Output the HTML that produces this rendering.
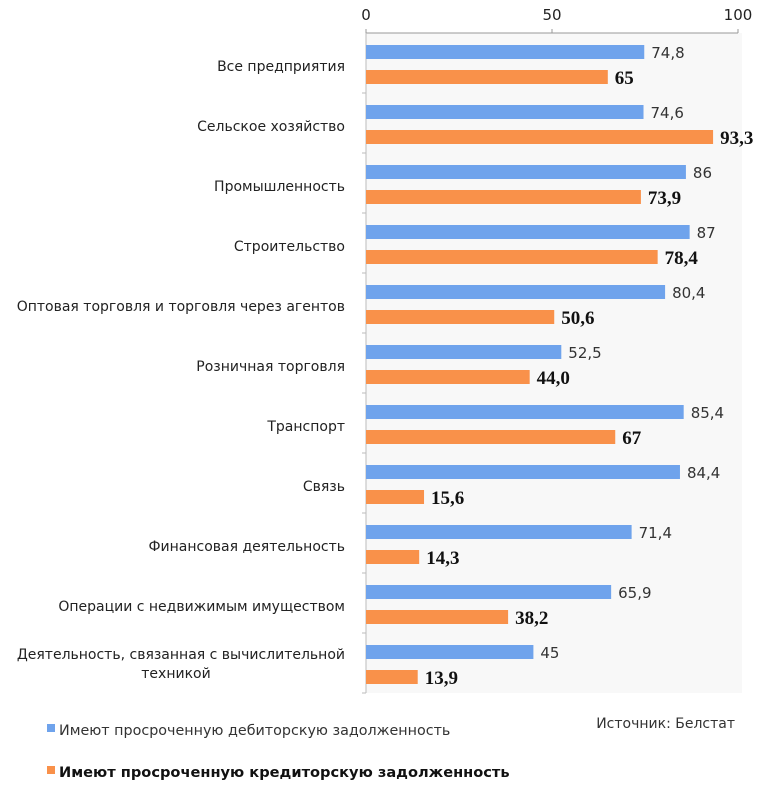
<!DOCTYPE html>
<html><head><meta charset="utf-8"><style>
body{margin:0;background:#fff;width:771px;height:783px;overflow:hidden;font-family:"DejaVu Sans","Liberation Sans",sans-serif}
svg text{font-family:"DejaVu Sans","Liberation Sans",sans-serif}
</style></head><body>
<svg id="c" width="771" height="783"></svg>
<script>
const categories=["Все предприятия","Сельское хозяйство","Промышленность","Строительство","Оптовая торговля и торговля через агентов","Розничная торговля","Транспорт","Связь","Финансовая деятельность","Операции с недвижимым имуществом","Деятельность, связанная с вычислительной|техникой"];
const debit=[74.8,74.6,86,87,80.4,52.5,85.4,84.4,71.4,65.9,45];
const debitLabels=["74,8","74,6","86","87","80,4","52,5","85,4","84,4","71,4","65,9","45"];
const credit=[65,93.3,73.9,78.4,50.6,44.0,67,15.6,14.3,38.2,13.9];
const creditLabels=["65","93,3","73,9","78,4","50,6","44,0","67","15,6","14,3","38,2","13,9"];
const ticks=[0,50,100];
const NS="http://www.w3.org/2000/svg",svg=document.getElementById('c');
const x0=366,x1=738,plotTop=33,band=60;
const xs=v=>x0+(x1-x0)*v/100;
function el(t,a,p){const e=document.createElementNS(NS,t);for(const k in a)e.setAttribute(k,a[k]);(p||svg).appendChild(e);return e;}
const bg=el('rect',{x:x0,y:plotTop,width:376,height:band*categories.length,fill:'#f8f8f8'});


el('line',{x1:x0,y1:plotTop,x2:x1,y2:plotTop,stroke:'#999'});
el('line',{x1:x0,y1:plotTop,x2:x0,y2:plotTop+band*categories.length,stroke:'#bbb'});
ticks.forEach(t=>{
 el('line',{x1:xs(t),y1:plotTop-4,x2:xs(t),y2:plotTop,stroke:'#999'});
 const tx=el('text',{x:xs(t),y:20,'text-anchor':'middle','font-size':15,fill:'#222'});tx.textContent=t;
 
 
});
categories.forEach((c,i)=>{
 const b=plotTop+i*band;
 el('line',{x1:x0-4,y1:b+band,x2:x0,y2:b+band,stroke:'#bbb'});
 const r1=el('rect',{x:x0,y:b+12,width:xs(debit[i])-x0,height:14,fill:'#6fa3ec'});
 
 
 const t1=el('text',{x:xs(debit[i])+7,y:b+25,'font-size':15,fill:'#333'});t1.textContent=debitLabels[i];
 
 
 const r2=el('rect',{x:x0,y:b+37,width:xs(credit[i])-x0,height:14,fill:'#f9914a'});
 
 
 const t2=el('text',{x:xs(credit[i])+7,y:b+51,'font-size':19,'font-weight':'bold',fill:'#111',style:'font-family:"Liberation Serif",serif'});t2.textContent=creditLabels[i];
 
 
 const lines=c.split('|');
 lines.forEach((ln,j)=>{
  const multi=lines.length>1;
  const tx=el('text',{x:multi&&j>0?176:345,y:multi?b+26+j*19:b+38,'text-anchor':multi&&j>0?'middle':'end','font-size':14,fill:'#222'});
  tx.textContent=ln;
  
  
 });
});
let g=el('g',{});


el('rect',{x:47,y:724,width:8,height:8,fill:'#6fa3ec'},g);
let t=el('text',{x:59,y:735,'font-size':14.3,fill:'#333'},g);t.textContent='Имеют просроченную дебиторскую задолженность';
g=el('g',{});


el('rect',{x:47,y:766,width:8,height:8,fill:'#f9914a'},g);
t=el('text',{x:59,y:777,'font-size':14.6,'font-weight':'bold',fill:'#111'},g);t.textContent='Имеют просроченную кредиторскую задолженность';
t=el('text',{x:735,y:728,'text-anchor':'end','font-size':14,fill:'#333'});t.textContent='Источник: Белстат';


</script>
</body></html>
